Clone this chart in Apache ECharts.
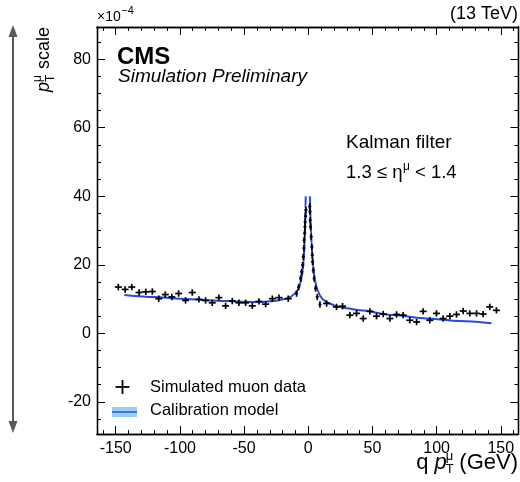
<!DOCTYPE html>
<html><head><meta charset="utf-8">
<script src="https://cdn.jsdelivr.net/npm/echarts@6/dist/echarts.min.js"></script>
<style>html,body{margin:0;padding:0;background:#fff}#c{width:520px;height:482px}</style>
</head><body><div id="c"></div>
<script>
// Simulated muon data (x in GeV, y in units of 1e-4)
const dataX = [-148,-142.7,-137.5,-131.8,-126.6,-121.5,-116.5,-111.4,-106.3,-101,-95.6,-90.4,-85.2,-80,-74.8,-69.6,-64.4,-59.2,-54,-48.8,-43.6,-38.4,-33.2,-28,-22.8,-15.6,-9.1,-7.5,-6.0,-5.2,-4.4,-3.9,-3.4,-3.2,-2.8,-2.6,-2.4,-2.1,-1.8,
  1.1,1.3,1.5,1.8,2.3,2.8,3.1,3.4,3.9,4.6,5.7,7.0,9.1,14.3,22,26.7,32.4,37.6,42.8,48,53.2,58.4,63.6,68.8,73.9,79.1,84.4,89.5,94.7,99.9,105.1,110.3,115.5,120.7,125.9,131.1,136.2,141.4,146.6];
const dataY = [13.5,12.8,13.5,11.9,12.1,12.2,10.1,11.3,10.6,11.6,9.6,11.9,9.9,9.6,8.9,10.4,8.0,9.4,8.9,8.9,8.0,9.3,8.5,10.1,10.4,10.1,11.6,13.5,16.0,17.9,19.9,22.3,24.8,27.2,29.2,31.1,32.5,34.2,36.0,
  37.0,35.5,33.0,31.1,28.2,25.2,22.8,20.8,18.4,16.0,13.1,10.6,8.4,8.7,7.7,7.9,5.3,5.8,4.3,6.4,5.0,5.6,4.3,5.5,5.3,3.8,3.3,6.4,3.8,5.8,4.3,5.0,5.5,6.5,5.8,5.8,5.6,7.7,6.7];
// Calibration model curve (drawn up to 40e-4 on each side of the peak)
const modelLeftX = [-143.3,-120,-100,-75,-50,-38,-25,-18,-14,-11,-9,-7,-6,-5,-4.2,-3.6,-3.1,-2.7,-2.4,-2.15,-2.0];
const modelLeftY = [11.2,10.6,10.1,9.6,9.2,9.1,9.5,10.0,10.6,11.4,12.2,13.5,14.8,16.5,18.7,21.0,24.5,28.5,32.5,36.5,40.0];
const modelRightX = [1.3,1.5,1.8,2.2,2.6,3.2,3.9,4.6,5.2,6.5,7.8,9.5,11.7,15,22,30,40,66,92,118,142.7];
const modelRightY = [40.0,36.5,33.0,29.0,26.2,22.5,19.4,17.2,15.5,13.5,12.1,10.8,9.8,8.9,7.9,7.3,6.7,5.3,4.3,3.6,2.9];
// Tick labels
const xMajor = [-150,-100,-50,0,50,100,150];
const yMajor = [-20,0,20,40,60,80];
const xMinor = []; for (let v=-160; v<=160; v+=10) xMinor.push(v);
const yMinor = []; for (let v=-25; v<=85; v+=5) yMinor.push(v);

const FONT = '"Liberation Sans", Arial, Helvetica, sans-serif';
const XMIN=-164.6, XMAX=163.8, YMIN=-29.4, YMAX=89.4;

const mctx = document.createElement('canvas').getContext('2d');
function tw(text, size, style){ mctx.font = (style||'') + ' ' + size + 'px ' + FONT; return mctx.measureText(text).width; }

function xAx(pos, vals, len, labels){
  return {type:'value', position:pos, min:XMIN, max:XMAX,
    axisLine:{show:true, onZero:false, lineStyle:{color:'#000', width:1.3}},
    axisTick:{show:true, inside:true, length:len, customValues:vals, lineStyle:{color:'#000', width:1}},
    axisLabel:{show:labels, customValues:vals, margin:7, color:'#000', fontSize:16, fontFamily:FONT},
    splitLine:{show:false}};
}
function yAx(pos, vals, len, labels){
  return {type:'value', position:pos, min:YMIN, max:YMAX,
    axisLine:{show:true, onZero:false, lineStyle:{color:'#000', width:1.3}},
    axisTick:{show:true, inside:true, length:len, customValues:vals, lineStyle:{color:'#000', width:1}},
    axisLabel:{show:labels, customValues:vals, margin:6, color:'#000', fontSize:16, fontFamily:FONT},
    splitLine:{show:false}};
}

function crossItem(params, api){
  const x = api.value(0), y = api.value(1);
  const p = api.coord([x, y]);
  const h = Math.abs(x) < 10 ? 1.5 : 3.5;
  const v = 3.2;
  const st = {stroke:'#000', lineWidth:1.7};
  return {type:'group', children:[
    {type:'line', shape:{x1:p[0]-h, y1:p[1], x2:p[0]+h, y2:p[1]}, style:st},
    {type:'line', shape:{x1:p[0], y1:p[1]-v, x2:p[0], y2:p[1]+v}, style:st}
  ]};
}

const txt = (x,y,text,size,opts) => ({type:'text', x:x, y:y, style:Object.assign({text:text, fontSize:size, fontFamily:FONT, fill:'#000', textVerticalAlign:'middle'}, opts||{})});

// layout of composite labels
const etaX0 = 346, etaS = 18.5;
const etaA = '1.3 \u2264 \u03b7';
const etaMuX = etaX0 + tw(etaA, etaS) + 0.5;
const etaRestX = etaMuX + tw('\u03bc', 12);

const xtS = 22, xtSub = 13;
const gevX = 518 - tw('(GeV)', xtS);
const xtSupX = gevX - tw(' ', xtS) - tw('\u03bc', xtSub);
const xtPX = xtSupX - tw('p', xtS, 'italic') + 1;
const xtQX = xtPX - tw(' ', xtS) - tw('q', xtS);

const expX = 97 + tw('\u00d710', 14);

const chart = echarts.init(document.getElementById('c'), null, {renderer:'canvas'});
chart.setOption({
  animation:false,
  backgroundColor:'#fff',
  grid:{left:97, top:27, right:1.5, bottom:48, containLabel:false},
  xAxis:[xAx('bottom', xMajor, 8, true), xAx('bottom', xMinor, 4, false), xAx('top', xMajor, 8, false), xAx('top', xMinor, 4, false)],
  yAxis:[yAx('left', yMajor, 8, true), yAx('left', yMinor, 4, false), yAx('right', yMajor, 8, false), yAx('right', yMinor, 4, false)],
  series:[
    {type:'line', xAxisIndex:0, yAxisIndex:0, data:modelLeftX.map((x,i)=>[x, modelLeftY[i]]), showSymbol:false, smooth:0.3, smoothMonotone:'x',
      lineStyle:{color:'#2a48e0', width:2}, z:3},
    {type:'line', xAxisIndex:0, yAxisIndex:0, data:modelRightX.map((x,i)=>[x, modelRightY[i]]), showSymbol:false, smooth:0.3, smoothMonotone:'x',
      lineStyle:{color:'#2a48e0', width:2}, z:3},
    {type:'custom', xAxisIndex:0, yAxisIndex:0, renderItem:crossItem, data:dataX.map((x,i)=>[x, dataY[i]]), encode:{x:0, y:1}, z:4}
  ],
  graphic:[
    // double arrow on the left
    {type:'line', shape:{x1:13, y1:34, x2:13, y2:424}, style:{stroke:'#5a5a5a', lineWidth:2}},
    {type:'polygon', shape:{points:[[13,25],[8.5,37],[17.5,37]]}, style:{fill:'#5a5a5a'}},
    {type:'polygon', shape:{points:[[13,433],[8.5,421],[17.5,421]]}, style:{fill:'#5a5a5a'}},
    // exponent
    txt(97, 17, '\u00d710', 14),
    txt(expX + 0.5, 11, '\u22124', 11),
    // energy
    txt(518, 14, '(13 TeV)', 18, {textAlign:'right'}),
    // CMS label
    txt(117, 57, 'CMS', 24, {fontWeight:'bold'}),
    txt(118, 77, 'Simulation Preliminary', 19, {fontStyle:'italic'}),
    // annotations
    txt(346, 143, 'Kalman filter', 19),
    txt(etaX0, 173, etaA, etaS),
    txt(etaMuX, 167, '\u03bc', 12),
    txt(etaRestX, 173, ' < 1.4', etaS),
    // legend
    {type:'line', shape:{x1:115.5, y1:387, x2:129.5, y2:387}, style:{stroke:'#000', lineWidth:1.8}},
    {type:'line', shape:{x1:122.5, y1:380, x2:122.5, y2:394}, style:{stroke:'#000', lineWidth:1.8}},
    txt(150, 387, 'Simulated muon data', 16.5),
    {type:'rect', shape:{x:112, y:407, width:25, height:10}, style:{fill:'#9ccbf6'}},
    {type:'line', shape:{x1:112, y1:412, x2:137, y2:412}, style:{stroke:'#3a78e0', lineWidth:2}},
    txt(150, 410, 'Calibration model', 16.5),
    // x axis title
    txt(xtQX, 463, 'q', xtS),
    txt(xtPX, 463, 'p', xtS, {fontStyle:'italic'}),
    txt(xtSupX, 456, '\u03bc', xtSub),
    txt(xtSupX, 469, 'T', xtSub),
    txt(gevX, 463, '(GeV)', xtS),
    // y axis title (rotated)
    {type:'group', x:50, y:92, rotation:Math.PI/2, children:[
      txt(0, -6, 'p', 18, {fontStyle:'italic'}),
      txt(10, -12, '\u03bc', 12),
      txt(10, 1, 'T', 12),
      txt(18, -6, ' scale', 18)
    ]}
  ]
});
</script></body></html>
